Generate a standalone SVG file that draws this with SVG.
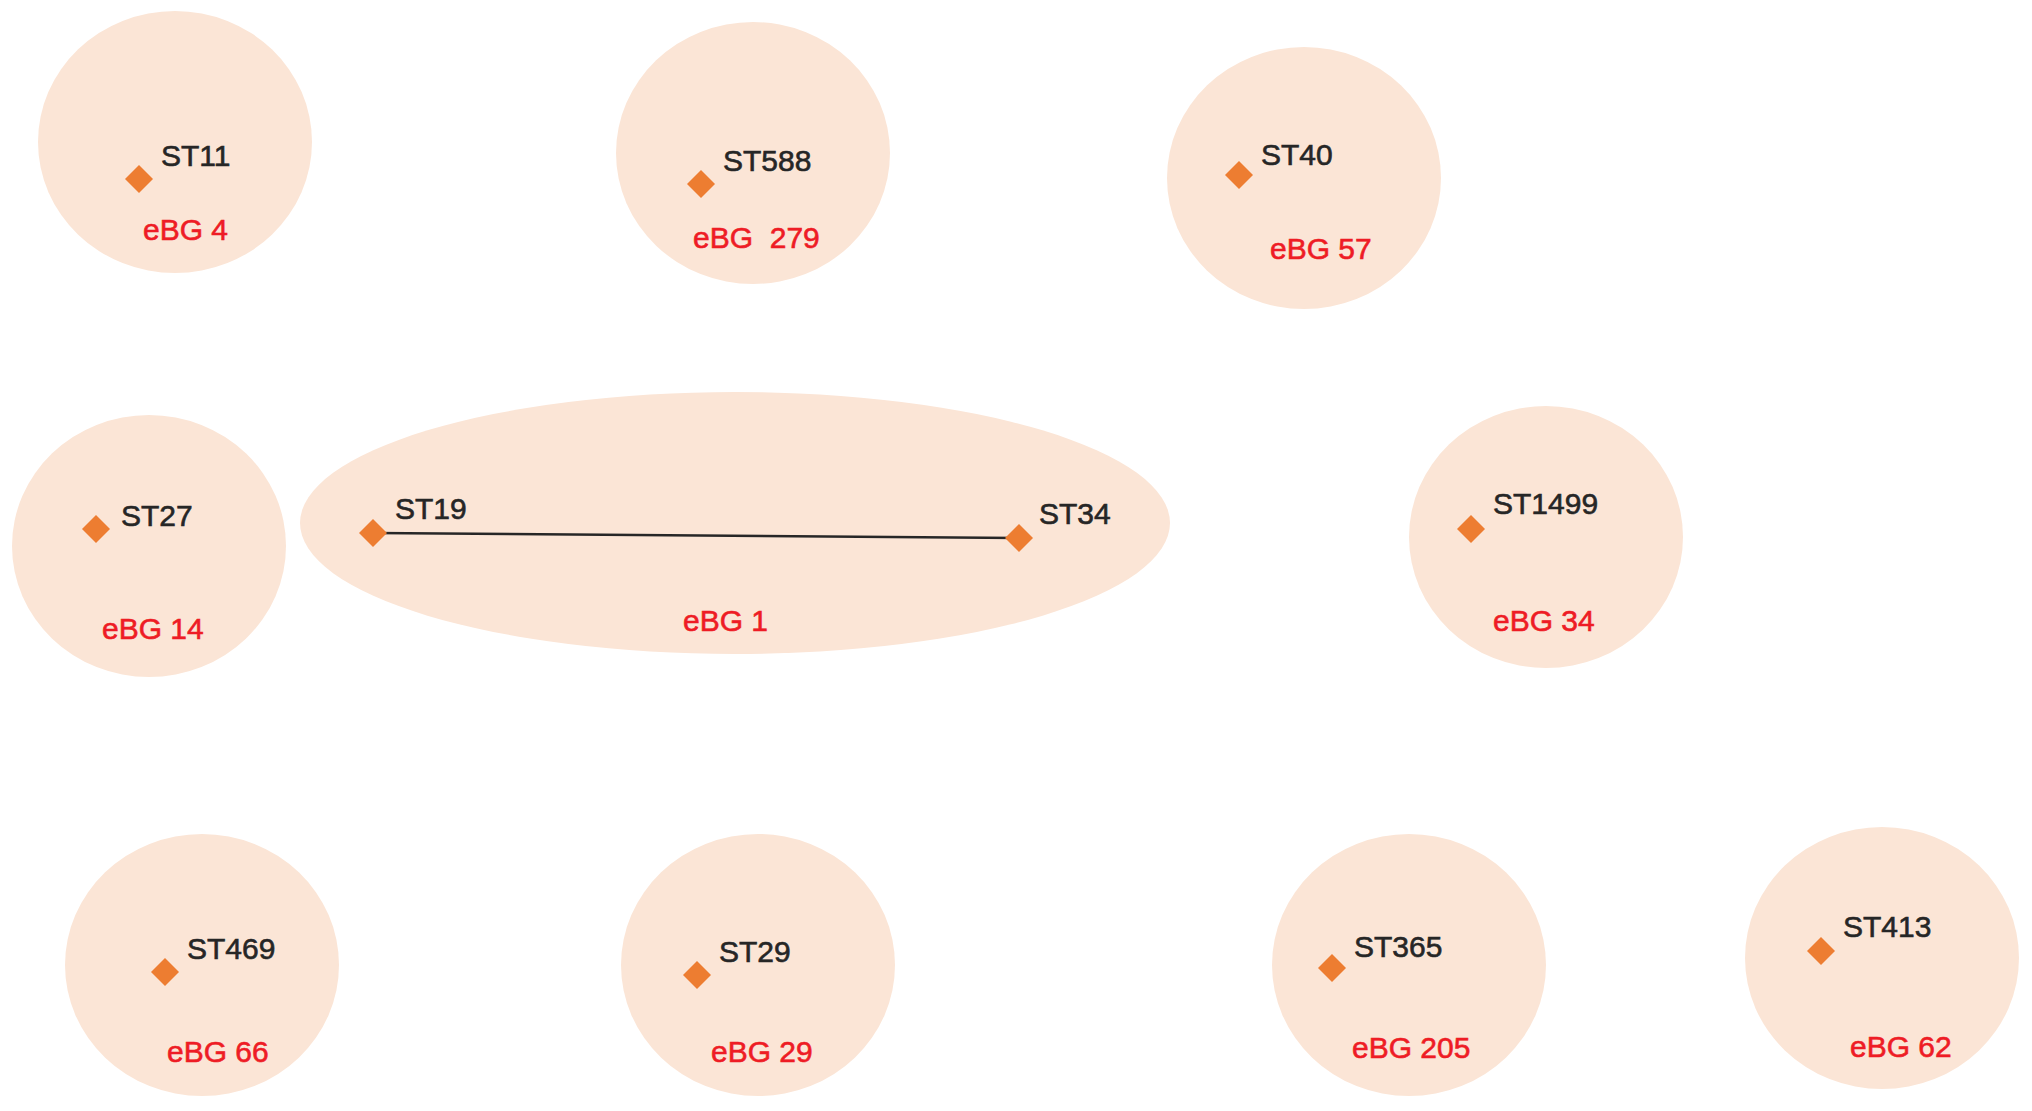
<svg xmlns="http://www.w3.org/2000/svg" width="2032" height="1111" viewBox="0 0 2032 1111">
<defs>
<style>
.grp{fill:#fbe5d6;}
.dia{fill:#ed7d31;}
.st{font-family:"Liberation Sans",Arial,sans-serif;font-size:30px;fill:#262626;stroke:#262626;stroke-width:0.6;}
.eb{font-family:"Liberation Sans",Arial,sans-serif;font-size:30px;fill:#ee1c25;stroke:#ee1c25;stroke-width:0.6;}
.edge{stroke:#262626;stroke-width:2.5;fill:none;}
</style>
<path id="d" d="M0,-14 L14,0 L0,14 L-14,0 Z"/>
</defs>
<rect width="2032" height="1111" fill="#ffffff"/>
<g id="eBG4">
<ellipse class="grp" cx="175" cy="142" rx="137" ry="131"/>
<use href="#d" class="dia" x="139" y="179"/>
<text class="st" x="161" y="166">ST11</text>
<text class="eb" x="143" y="240">eBG 4</text>
</g>
<g id="eBG279">
<ellipse class="grp" cx="753" cy="153" rx="137" ry="131"/>
<use href="#d" class="dia" x="701" y="184"/>
<text class="st" x="723" y="171">ST588</text>
<text class="eb" x="693" y="248" xml:space="preserve">eBG  279</text>
</g>
<g id="eBG57">
<ellipse class="grp" cx="1304" cy="178" rx="137" ry="131"/>
<use href="#d" class="dia" x="1239" y="175"/>
<text class="st" x="1261" y="165">ST40</text>
<text class="eb" x="1270" y="259">eBG 57</text>
</g>
<g id="eBG14">
<ellipse class="grp" cx="149" cy="546" rx="137" ry="131"/>
<use href="#d" class="dia" x="96" y="529"/>
<text class="st" x="121" y="526">ST27</text>
<text class="eb" x="102" y="639">eBG 14</text>
</g>
<g id="eBG1">
<ellipse class="grp" cx="735" cy="523" rx="435" ry="131"/>
<g id="connectors">
<line class="edge" x1="373" y1="533" x2="1019" y2="538"/>
</g>
<use href="#d" class="dia" x="373" y="533"/>
<use href="#d" class="dia" x="1019" y="538"/>
<text class="st" x="395" y="519">ST19</text>
<text class="st" x="1039" y="524">ST34</text>
<text class="eb" x="683" y="631">eBG 1</text>
</g>
<g id="eBG34">
<ellipse class="grp" cx="1546" cy="537" rx="137" ry="131"/>
<use href="#d" class="dia" x="1471" y="529"/>
<text class="st" x="1493" y="514">ST1499</text>
<text class="eb" x="1493" y="631">eBG 34</text>
</g>
<g id="eBG66">
<ellipse class="grp" cx="202" cy="965" rx="137" ry="131"/>
<use href="#d" class="dia" x="165" y="972"/>
<text class="st" x="187" y="959">ST469</text>
<text class="eb" x="167" y="1062">eBG 66</text>
</g>
<g id="eBG29">
<ellipse class="grp" cx="758" cy="965" rx="137" ry="131"/>
<use href="#d" class="dia" x="697" y="975"/>
<text class="st" x="719" y="962">ST29</text>
<text class="eb" x="711" y="1062">eBG 29</text>
</g>
<g id="eBG205">
<ellipse class="grp" cx="1409" cy="965" rx="137" ry="131"/>
<use href="#d" class="dia" x="1332" y="968"/>
<text class="st" x="1354" y="957">ST365</text>
<text class="eb" x="1352" y="1058">eBG 205</text>
</g>
<g id="eBG62">
<ellipse class="grp" cx="1882" cy="958" rx="137" ry="131"/>
<use href="#d" class="dia" x="1821" y="951"/>
<text class="st" x="1843" y="937">ST413</text>
<text class="eb" x="1850" y="1057">eBG 62</text>
</g>
</svg>
